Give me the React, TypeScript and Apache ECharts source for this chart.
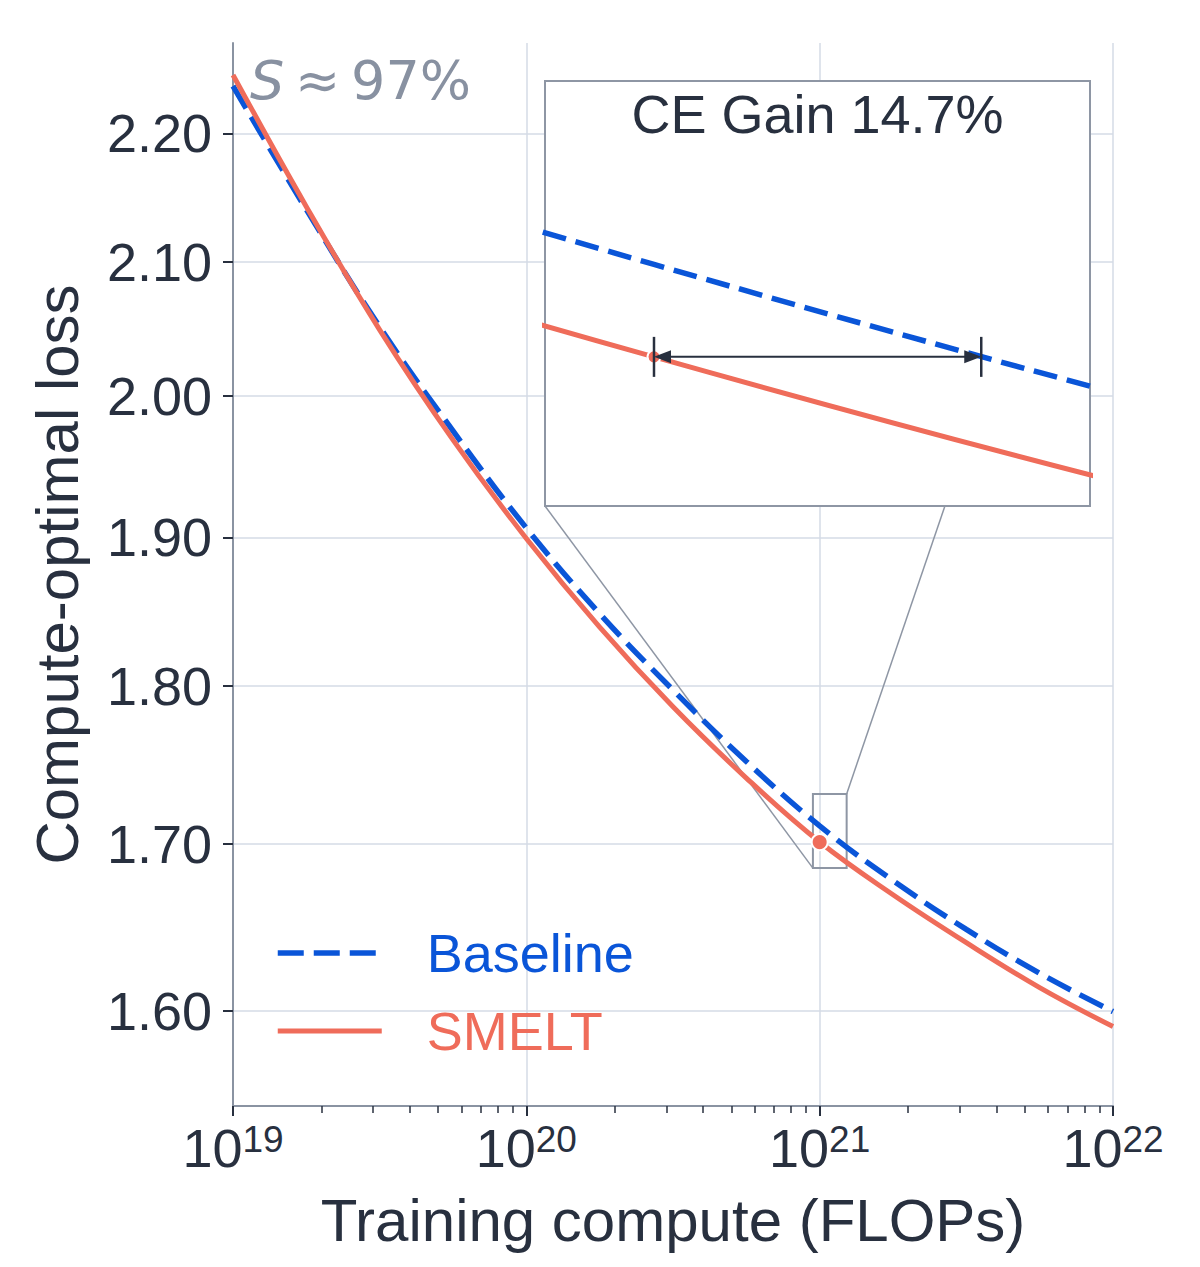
import { useEffect, useRef } from 'react';
import * as echarts from 'echarts';

// x = log10(training compute in FLOPs), y = compute-optimal loss
const computeExp = [19, 19.25, 19.5, 19.75, 20, 20.25, 20.5, 20.75, 21, 21.25, 21.5, 21.75, 22];
const baselineLoss = [2.2382, 2.1401, 2.0508, 1.9748, 1.9064, 1.848, 1.7975, 1.7515, 1.711, 1.6774, 1.6479, 1.6219, 1.5995];
const smeltLoss = [2.2472, 2.1423, 2.0486, 1.9684, 1.8992, 1.839, 1.7866, 1.741, 1.701, 1.6688, 1.64, 1.6135, 1.5908];

const yTickLabels = [1.6, 1.7, 1.8, 1.9, 2.0, 2.1, 2.2];
const lossRange = [1.5456, 2.2734];
const expRange = [19, 22];

// zoomed window shown in the inset
const insetExpRange = [20.977, 21.092];
const insetLossRange = [1.685, 1.731];
const markerExp = 21;
const ceGain = 14.7;
const efficiencyNote = '≈\u200997%';

const ink = '#28303f';
const spine = '#8a93a2';
const gridColor = '#d5dbe6';
const boxColor = '#8e96a4';
const blue = '#0a55d8';
const coral = '#ef6c5a';
const font = 'Liberation Sans';

const ln = Math.log;
const toPts = (ys: number[]) => computeExp.map((x, i) => [x, ln(ys[i])]);

const minorTicks: number[] = [];
for (let n = expRange[0]; n < expRange[1]; n++) {
  for (let k = 2; k <= 9; k++) minorTicks.push(n + Math.log10(k));
}

const markerLoss = smeltLoss[computeExp.indexOf(markerExp)];

function lineSeries(name: string, ys: number[], color: string, width: number, dash: any, inset: boolean) {
  return {
    name,
    type: 'line',
    xAxisIndex: inset ? 2 : 0,
    yAxisIndex: inset ? 1 : 0,
    data: toPts(ys),
    smooth: 0.4,
    symbol: 'none',
    clip: true,
    z: inset ? 3 : 2,
    lineStyle: { color, width, type: dash },
    itemStyle: { color },
  };
}

function dotSeries(inset: boolean) {
  return {
    name: 'SMELT point',
    type: 'scatter',
    xAxisIndex: inset ? 2 : 0,
    yAxisIndex: inset ? 1 : 0,
    data: [[markerExp, ln(markerLoss)]],
    symbolSize: inset ? 13 : 16,
    z: inset ? 4 : 5,
    itemStyle: { color: coral, borderColor: '#fff', borderWidth: 2, opacity: 1 },
  };
}

const option: any = {
  animation: false,
  backgroundColor: '#fff',
  textStyle: { fontFamily: font },
  grid: [
    { left: 233, top: 43, width: 880, height: 1063, outerBoundsMode: 'none', containLabel: false },
    {
      left: 545, top: 81, width: 545, height: 425, show: true, backgroundColor: '#fff',
      borderColor: boxColor, borderWidth: 2, z: 2, outerBoundsMode: 'none', containLabel: false,
    },
  ],
  legend: {
    data: [
      { name: 'Baseline', textStyle: { color: blue } },
      { name: 'SMELT', textStyle: { color: coral } },
    ],
    orient: 'vertical',
    left: 270,
    top: 920,
    itemWidth: 104,
    itemHeight: 14,
    itemGap: 22,
    selectedMode: false,
    lineStyle: { width: 'inherit' },
    itemStyle: { color: 'rgba(0,0,0,0)', borderWidth: 0, opacity: 0 },
    textStyle: { fontSize: 54, lineHeight: 56, fontFamily: font, padding: [0, 0, 0, 40] },
  },
  xAxis: [
    {
      type: 'value', gridIndex: 0, min: expRange[0], max: expRange[1], interval: 1, position: 'bottom',
      axisLine: { show: true, lineStyle: { color: spine, width: 2 } },
      axisTick: { show: true, length: 10, lineStyle: { color: ink, width: 2 } },
      axisLabel: {
        margin: 15,
        formatter: (v: number) => `{b|10}{s|${v}}`,
        rich: {
          b: { fontSize: 54, lineHeight: 54, color: ink, fontFamily: font },
          s: { fontSize: 37, lineHeight: 26, verticalAlign: 'top', color: ink, fontFamily: font },
        },
      },
      splitLine: { show: true, lineStyle: { color: gridColor, width: 1.5 } },
      name: 'Training compute (FLOPs)',
      nameLocation: 'middle',
      nameGap: 84,
      nameTextStyle: { fontSize: 60, lineHeight: 60, color: ink, fontFamily: font },
    },
    {
      type: 'value', gridIndex: 0, min: expRange[0], max: expRange[1], position: 'bottom',
      axisLine: { show: false },
      axisTick: { show: true, length: 7, customValues: minorTicks, lineStyle: { color: ink, width: 1.5 } },
      axisLabel: { show: false },
      splitLine: { show: false },
    },
    { type: 'value', gridIndex: 1, min: insetExpRange[0], max: insetExpRange[1], show: false },
  ],
  yAxis: [
    {
      type: 'value', gridIndex: 0, min: ln(lossRange[0]), max: ln(lossRange[1]),
      axisLine: { show: true, lineStyle: { color: spine, width: 2 } },
      axisTick: { show: true, length: 10, customValues: yTickLabels.map(ln), lineStyle: { color: ink, width: 2 } },
      axisLabel: {
        customValues: yTickLabels.map(ln),
        margin: 21,
        fontSize: 54,
        color: ink,
        fontFamily: font,
        formatter: (v: number) => Math.exp(v).toFixed(2),
      },
      splitLine: { show: true, lineStyle: { color: gridColor, width: 1.5 } },
      name: 'Compute-optimal loss',
      nameLocation: 'middle',
      nameGap: 146,
      nameTextStyle: { fontSize: 60, lineHeight: 60, color: ink, fontFamily: font },
    },
    { type: 'value', gridIndex: 1, min: ln(insetLossRange[0]), max: ln(insetLossRange[1]), show: false },
  ],
  series: [
    lineSeries('Baseline', baselineLoss, blue, 5.5, [26, 10], false),
    lineSeries('SMELT', smeltLoss, coral, 5, 'solid', false),
    dotSeries(false),
    lineSeries('Baseline', baselineLoss, blue, 5.5, [24, 10], true),
    lineSeries('SMELT', smeltLoss, coral, 5, 'solid', true),
    dotSeries(true),
  ],
};

export default function App() {
  const ref = useRef<HTMLDivElement>(null);

  useEffect(() => {
    if (!ref.current) return;
    const chart = echarts.init(ref.current, null, { renderer: 'svg' });
    chart.setOption(option);

    const main = (x: number, v: number) => chart.convertToPixel({ xAxisIndex: 0, yAxisIndex: 0 }, [x, ln(v)]) as number[];
    const inset = (x: number, v: number) => chart.convertToPixel({ xAxisIndex: 2, yAxisIndex: 1 }, [x, ln(v)]) as number[];

    // zoom window in the main plot and the inset frame corners
    const winBL = main(insetExpRange[0], insetLossRange[0]);
    const winTR = main(insetExpRange[1], insetLossRange[1]);
    const boxBL = inset(insetExpRange[0], insetLossRange[0]);
    const boxTR = inset(insetExpRange[1], insetLossRange[1]);

    // compute needed by the baseline to reach SMELT's loss
    const gainExp = markerExp + Math.log10(1 / (1 - ceGain / 100));
    const aL = inset(markerExp, markerLoss);
    const aR = inset(gainExp, markerLoss);
    const head = 17;
    const half = 6.5;
    const bar = 20;

    const thin = { stroke: boxColor, lineWidth: 1.5 };
    const dark = { stroke: ink, lineWidth: 2.5 };

    chart.setOption({
      graphic: [
        {
          type: 'rect', z: 1, silent: true,
          shape: { x: winBL[0], y: winTR[1], width: winTR[0] - winBL[0], height: winBL[1] - winTR[1] },
          style: { fill: 'none', stroke: boxColor, lineWidth: 2 },
        },
        { type: 'line', z: 1, silent: true, shape: { x1: winBL[0], y1: winBL[1], x2: boxBL[0], y2: boxBL[1] }, style: thin },
        { type: 'line', z: 1, silent: true, shape: { x1: winTR[0], y1: winTR[1], x2: boxTR[0], y2: boxTR[1] }, style: thin },
        { type: 'line', z: 10, silent: true, shape: { x1: aL[0] + 4, y1: aL[1], x2: aR[0] - 4, y2: aR[1] }, style: { stroke: ink, lineWidth: 2 } },
        {
          type: 'polygon', z: 10, silent: true,
          shape: { points: [[aL[0], aL[1]], [aL[0] + head, aL[1] - half], [aL[0] + head, aL[1] + half]] },
          style: { fill: ink },
        },
        {
          type: 'polygon', z: 10, silent: true,
          shape: { points: [[aR[0], aR[1]], [aR[0] - head, aR[1] - half], [aR[0] - head, aR[1] + half]] },
          style: { fill: ink },
        },
        { type: 'line', z: 10, silent: true, shape: { x1: aL[0], y1: aL[1] - bar, x2: aL[0], y2: aL[1] + bar }, style: dark },
        { type: 'line', z: 10, silent: true, shape: { x1: aR[0], y1: aR[1] - bar, x2: aR[0], y2: aR[1] + bar }, style: dark },
        {
          type: 'text', z: 10, silent: true,
          x: (boxBL[0] + boxTR[0]) / 2, y: boxTR[1] + 33,
          style: {
            text: `CE Gain ${ceGain}%`, fontSize: 54, fontFamily: font, fill: ink,
            align: 'center', verticalAlign: 'middle',
          },
        },
        {
          type: 'text', z: 10, silent: true,
          x: 250, y: 80,
          style: {
            text: `{i|S}\u2009${efficiencyNote}`, fontSize: 54, fontFamily: 'DejaVu Sans', fill: '#8891a1',
            align: 'left', verticalAlign: 'middle',
            rich: { i: { fontStyle: 'italic', fontSize: 54, fontFamily: 'DejaVu Sans', fill: '#8891a1' } },
          },
        },
      ],
    });

    return () => chart.dispose();
  }, []);

  return (
    <div
      ref={ref}
      style={{ position: 'fixed', left: 0, top: 0, width: 1200, height: 1267, background: '#fff' }}
    />
  );
}
